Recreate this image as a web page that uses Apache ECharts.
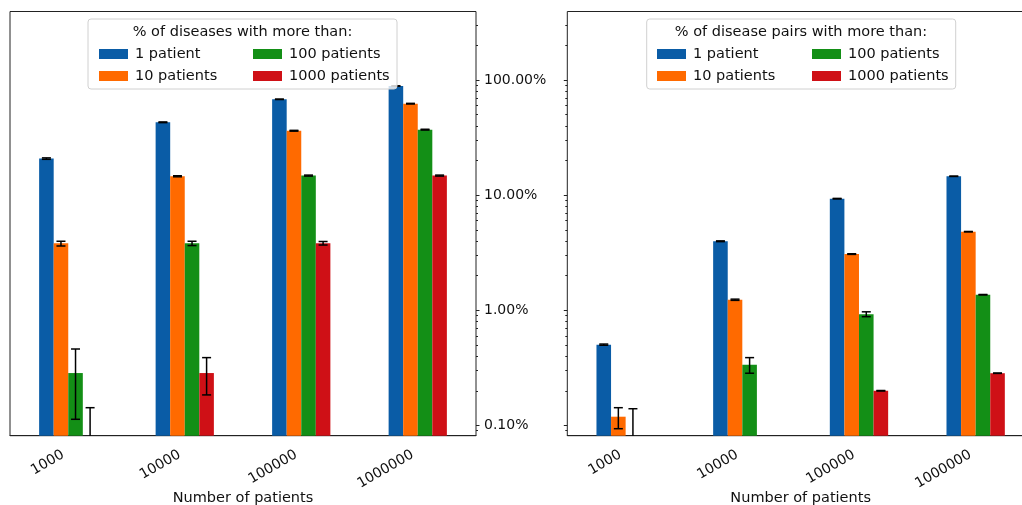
<!DOCTYPE html>
<html>
<head>
<meta charset="utf-8">
<script src="https://cdn.jsdelivr.net/npm/echarts@6/dist/echarts.min.js"></script>
<style>
  html, body { margin: 0; padding: 0; background: #fff; }
  #chart { width: 1022px; height: 505px; }
</style>
</head>
<body>
<div id="chart"></div>
<script>
const categories = ['1000', '10000', '100000', '1000000'];
const seriesNames = ['1 patient', '10 patients', '100 patients', '1000 patients'];
const colors = ['#0a5ca6', '#ff6a00', '#138f16', '#cf1016'];

// left panel: % of diseases with more than N patients
const diseases1 = [20.8, 43.0, 68.1, 88.9];
const diseases10 = [3.82, 14.6, 36.3, 62.4];
const diseases100 = [0.285, 3.82, 14.8, 37.1];
const diseases1000 = [null, 0.285, 3.82, 14.8];

// error ranges [low, high]; low null = runs off the bottom
const diseases1Err = [[20.5, 21.1], [42.7, 43.3], [67.8, 68.4], [88.6, 89.2]];
const diseases10Err = [[3.62, 3.98], [14.45, 14.75], [36.0, 36.6], [62.0, 62.8]];
const diseases100Err = [[0.113, 0.461], [3.65, 3.98], [14.65, 14.95], [36.8, 37.4]];
const diseases1000Err = [[null, 0.1425], [0.184, 0.388], [3.69, 3.96], [14.65, 14.95]];

// right panel: % of disease pairs with more than N patients
const pairs1 = [0.503, 3.98, 9.33, 14.6];
const pairs10 = [0.119, 1.236, 3.08, 4.82];
const pairs100 = [null, 0.337, 0.923, 1.366];
const pairs1000 = [null, null, 0.200, 0.284];

const pairs1Err = [[0.497, 0.509], [3.95, 4.01], [9.28, 9.38], [14.55, 14.65]];
const pairs10Err = [[0.0936, 0.1425], [1.22, 1.25], [3.06, 3.10], [4.80, 4.84]];
const pairs100Err = [[null, 0.1396], [0.284, 0.388], [0.88, 0.97], [1.36, 1.372]];
const pairs1000Err = [null, null, [0.199, 0.201], [0.283, 0.285]];

const FONT = 'DejaVu Sans';
const LOG_MIN = -1.0895, LOG_MAX = 2.596;   // log10 of % at bottom / top of plot
const toY = v => v == null ? null : Math.log10(v) - LOG_MIN;
const yMax = LOG_MAX - LOG_MIN;

const majorTicks = [-1, 0, 1, 2].map(e => e - LOG_MIN);
const minorTicks = [];
for (let e = -2; e <= 2; e++) {
  for (let k = 2; k <= 9; k++) {
    const t = e + Math.log10(k);
    if (t > LOG_MIN && t < LOG_MAX) minorTicks.push(t - LOG_MIN);
  }
}

function yAx(grid, pos, major, labels) {
  return {
    type: 'value', gridIndex: grid, position: pos, min: 0, max: yMax,
    splitLine: { show: false },
    axisLine: { show: false },
    axisTick: { show: true, length: major ? 3.5 : 2, customValues: major ? majorTicks : minorTicks,
      lineStyle: { color: '#222', width: 1 } },
    axisLabel: { show: labels, customValues: majorTicks, margin: 8, fontSize: 14, color: '#111', fontFamily: FONT,
      formatter: v => Math.pow(10, v + LOG_MIN).toFixed(2) + '%' }
  };
}

function xAx(grid) {
  return {
    type: 'category', gridIndex: grid, data: categories,
    axisLine: { show: true, lineStyle: { color: '#222', width: 1 } },
    axisTick: { alignWithLabel: true, length: 3.5, lineStyle: { color: '#222' } },
    axisLabel: { rotate: 30, margin: 15, padding: [0, 6, 0, 0], fontSize: 14, color: '#111', fontFamily: FONT },
    name: 'Number of patients', nameLocation: 'middle', nameGap: 55, nameMoveOverlap: false,
    nameTextStyle: { fontSize: 14.5, color: '#111', fontFamily: FONT }
  };
}

function bars(panel, vals) {
  return vals.map((arr, i) => ({
    name: seriesNames[i], type: 'bar', xAxisIndex: panel, yAxisIndex: panel * 2,
    data: arr.map(toY), barWidth: '12.5%', barGap: '0%',
    itemStyle: { color: colors[i] }, z: 2
  }));
}

function errors(panel, errs) {
  const data = [];
  errs.forEach((arr, s) => arr.forEach((r, c) => {
    if (r) data.push([c, r[0] == null ? 0 : toY(r[0]), toY(r[1]), s, r[0] == null ? 0 : 1]);
  }));
  return {
    type: 'custom', xAxisIndex: panel, yAxisIndex: panel * 2, data, z: 5, silent: true,
    renderItem: (params, api) => {
      const band = api.size([1, 0])[0];
      const x = api.coord([api.value(0), 0])[0] + (api.value(3) - 1.5) * band * 0.125;
      const yLo = api.coord([api.value(0), api.value(1)])[1];
      const yHi = api.coord([api.value(0), api.value(2)])[1];
      const st = { stroke: '#000', lineWidth: 1.5 };
      const children = [
        { type: 'line', shape: { x1: x, y1: yLo, x2: x, y2: yHi }, style: st },
        { type: 'line', shape: { x1: x - 4.5, y1: yHi, x2: x + 4.5, y2: yHi }, style: st }
      ];
      if (api.value(4)) children.push({ type: 'line', shape: { x1: x - 4.5, y1: yLo, x2: x + 4.5, y2: yLo }, style: st });
      return { type: 'group', children };
    }
  };
}

function legend(left, names) {
  return {
    left, top: 41, orient: 'vertical', data: names, icon: 'rect',
    itemWidth: 29, itemHeight: 10, itemGap: 6, selectedMode: false, z: 20,
    textStyle: { fontSize: 14.5, color: '#111', fontFamily: FONT, padding: [0, 0, 0, 2], lineHeight: 16 }
  };
}

function legendTitle(x, text) {
  return { text, left: x, textAlign: 'center', top: 25, z: 20, padding: 0,
    textStyle: { fontSize: 14.5, fontWeight: 'normal', color: '#111', fontFamily: FONT } };
}

function legendBox(x) {
  return { type: 'rect', shape: { x, y: 19, width: 309, height: 70, r: 3 }, z: 10,
    style: { fill: 'rgba(255,255,255,0.8)', stroke: '#d0d0d0', lineWidth: 1 } };
}

const chart = echarts.init(document.getElementById('chart'), null, { renderer: 'canvas' });

const option = {
  animation: false,
  textStyle: { fontFamily: FONT },
  grid: [
    { left: 10, top: 11.5, width: 466, bottom: 69.3, show: true, borderColor: '#222', borderWidth: 1,
      containLabel: false, outerBoundsMode: 'none' },
    { left: 567.3, top: 11.5, width: 466.7, bottom: 69.3, show: true, borderColor: '#222', borderWidth: 1,
      containLabel: false, outerBoundsMode: 'none' }
  ],
  xAxis: [xAx(0), xAx(1)],
  yAxis: [yAx(0, 'right', true, true), yAx(0, 'right', false, false), yAx(1, 'left', true, false), yAx(1, 'left', false, false)],
  title: [
    legendTitle(242.5, '% of diseases with more than:'),
    legendTitle(801, '% of disease pairs with more than:')
  ],
  legend: [
    legend(94, ['1 patient', '10 patients']),
    legend(248, ['100 patients', '1000 patients']),
    legend(652, ['1 patient', '10 patients']),
    legend(807, ['100 patients', '1000 patients'])
  ],
  graphic: [legendBox(88), legendBox(646.7)],
  series: [
    ...bars(0, [diseases1, diseases10, diseases100, diseases1000]),
    errors(0, [diseases1Err, diseases10Err, diseases100Err, diseases1000Err]),
    ...bars(1, [pairs1, pairs10, pairs100, pairs1000]),
    errors(1, [pairs1Err, pairs10Err, pairs100Err, pairs1000Err])
  ]
};

chart.setOption(option);
window.addEventListener('resize', () => chart.resize());
</script>
</body>
</html>
